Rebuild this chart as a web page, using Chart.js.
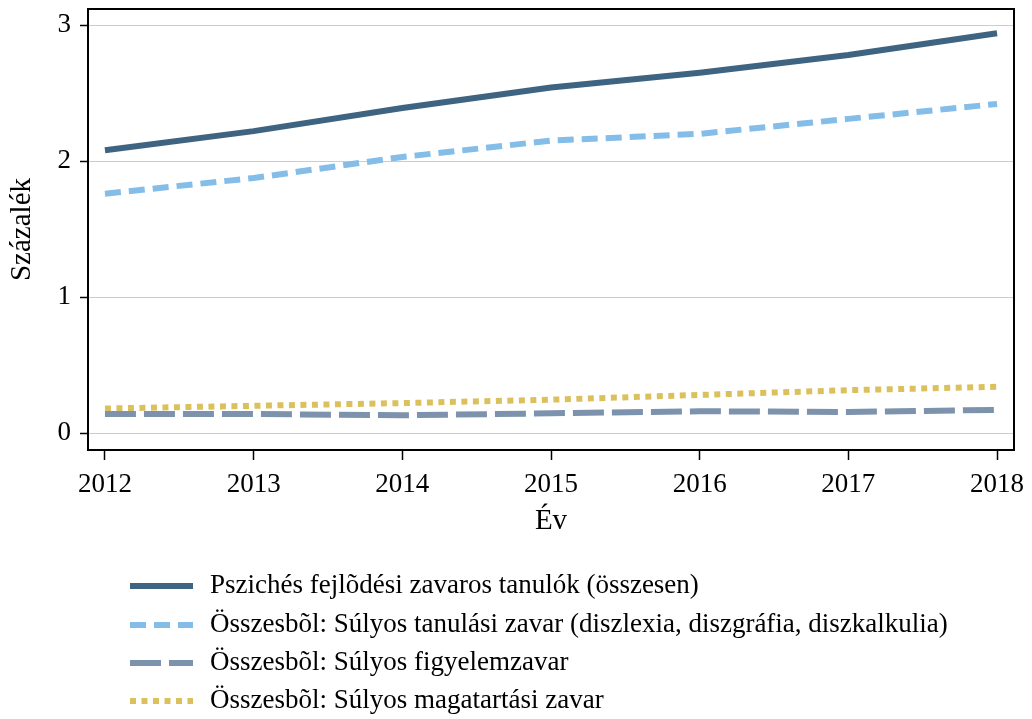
<!DOCTYPE html>
<html>
<head>
<meta charset="utf-8">
<script src="https://cdn.jsdelivr.net/npm/chart.js@4/dist/chart.umd.min.js"></script>
<style>
  body { margin: 0; background: #fff; }
  #wrap { width: 1032px; height: 719px; }
</style>
</head>
<body>
<div id="wrap"><canvas id="chart"></canvas></div>
<script>
// Years and series (percent)
const years = [2012, 2013, 2014, 2015, 2016, 2017, 2018];
const yTicks = [0, 1, 2, 3];

const total = [2.08, 2.22, 2.39, 2.54, 2.65, 2.78, 2.94];
const learning = [1.76, 1.875, 2.03, 2.15, 2.20, 2.31, 2.42];
const attention = [0.14, 0.14, 0.13, 0.145, 0.16, 0.155, 0.17];
const behaviour = [0.18, 0.20, 0.22, 0.245, 0.28, 0.315, 0.34];

const labels = [
  'Pszichés fejlõdési zavaros tanulók (összesen)',
  'Összesbõl: Súlyos tanulási zavar (diszlexia, diszgráfia, diszkalkulia)',
  'Összesbõl: Súlyos figyelemzavar',
  'Összesbõl: Súlyos magatartási zavar'
];

const FONT = '"Liberation Serif", "Times New Roman", serif';

const toPoints = vals => vals.map((v, i) => ({ x: years[i], y: v }));

const series = [
  { data: total, color: '#3e6481', dash: [] },
  { data: learning, color: '#83bde8', dash: [16, 8] },
  { data: attention, color: '#7d93ad', dash: [31, 8] },
  { data: behaviour, color: '#dbc15e', dash: [6, 5.5] }
];

// frame around the plot area + legend under the chart
const framePlugin = {
  id: 'frame',
  afterDraw(chart) {
    const { ctx, chartArea: a } = chart;
    ctx.save();
    ctx.strokeStyle = '#000';
    ctx.lineWidth = 2;
    ctx.strokeRect(a.left, a.top, a.right - a.left, a.bottom - a.top);

    // legend
    const rows = [586, 625, 663, 701];
    ctx.font = '27px ' + FONT;
    ctx.textBaseline = 'middle';
    chart.data.datasets.forEach((ds, i) => {
      const y = rows[i];
      ctx.strokeStyle = ds.borderColor;
      ctx.lineWidth = ds.borderWidth;
      ctx.lineCap = 'butt';
      ctx.setLineDash(ds.borderDash || []);
      ctx.beginPath();
      ctx.moveTo(130, y);
      ctx.lineTo(193, y);
      ctx.stroke();
      ctx.setLineDash([]);
      ctx.fillStyle = '#000';
      ctx.fillText(ds.label, 210, y);
    });
    ctx.restore();
  }
};

new Chart(document.getElementById('chart'), {
  type: 'line',
  data: {
    datasets: series.map((s, i) => ({
      label: labels[i],
      data: toPoints(s.data),
      borderColor: s.color,
      borderWidth: 6,
      borderDash: s.dash,
      borderCapStyle: 'butt',
      pointRadius: 0,
      tension: 0,
      fill: false
    }))
  },
  options: {
    responsive: true,
    maintainAspectRatio: false,
    animation: false,
    layout: { padding: { top: 9, right: 18, bottom: 179, left: 0 } },
    plugins: {
      legend: { display: false },
      tooltip: { enabled: false }
    },
    scales: {
      x: {
        type: 'linear',
        min: 2011.886,
        max: 2018.114,
        afterBuildTicks: scale => { scale.ticks = years.map(v => ({ value: v })); },
        afterFit: scale => {
          scale.height = 90;
          scale.paddingLeft = 0;
          scale.paddingRight = 0;
        },
        grid: { drawOnChartArea: false, tickLength: 10, tickColor: '#000', tickWidth: 1.5 },
        border: { display: false },
        ticks: {
          color: '#000',
          font: { family: FONT, size: 27 },
          padding: 9,
          callback: v => String(v)
        },
        title: {
          display: true,
          text: 'Év',
          color: '#000',
          font: { family: FONT, size: 29 },
          padding: { top: 0, bottom: 1 }
        }
      },
      y: {
        min: -0.125,
        max: 3.118,
        afterBuildTicks: scale => { scale.ticks = yTicks.map(v => ({ value: v })); },
        afterFit: scale => {
          scale.width = 88;
          scale.paddingTop = 0;
          scale.paddingBottom = 0;
        },
        grid: { color: '#cccccc', lineWidth: 1, tickLength: 8, tickColor: '#000', tickWidth: 1.5 },
        border: { display: false },
        ticks: {
          color: '#000',
          font: { family: FONT, size: 27 },
          padding: 9
        },
        title: {
          display: true,
          text: 'Százalék',
          color: '#000',
          font: { family: FONT, size: 29 },
          padding: { top: 5, bottom: 0 }
        }
      }
    }
  },
  plugins: [framePlugin]
});
</script>
</body>
</html>
